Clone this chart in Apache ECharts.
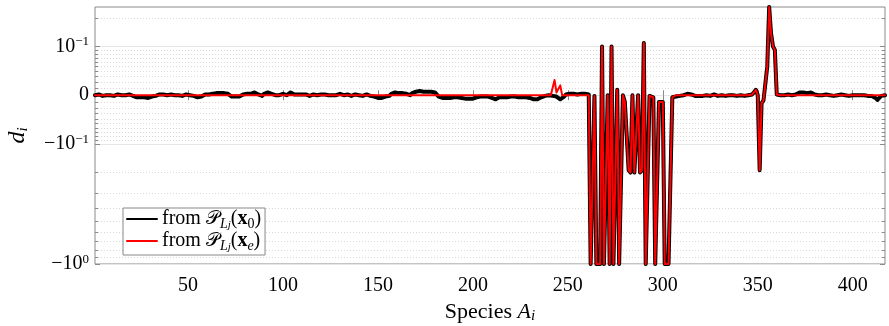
<!DOCTYPE html>
<html><head><meta charset="utf-8">
<script src="https://cdn.jsdelivr.net/npm/echarts@6/dist/echarts.min.js"></script>
<style>html,body{margin:0;padding:0;background:#fff}#c{width:889px;height:326px}</style>
</head><body><div id="c"></div>
<script>
// d_i for species A_1 ... A_417
const blackValues = [
0,0,.001,0,-.001,0,0,.001,0,0,
-.001,0,.001,0,0,-.001,0,0,.001,0,
-.001,-.002,-.003,-.002,-.003,-.004,-.003,-.003,-.004,-.003,
-.002,-.003,-.001,0,.001,0,.001,0,0,.001,
.001,0,0,.001,0,0,-.001,0,.001,0,
0,0,-.001,-.002,-.003,-.004,-.002,0,.001,0,
.001,.001,.002,.003,.003,.004,.003,.004,.003,.002,
.002,.001,-.002,-.003,-.002,-.001,-.002,0,.001,.002,
.002,.003,.002,.003,.004,.002,.001,.002,-.001,.002,
.003,.004,.005,.002,.001,0,.001,0,.001,.002,
.001,0,.002,.004,.002,.001,0,.001,0,.001,
0,.001,0,-.001,0,.001,.001,0,0,.001,
.002,.001,0,0,.001,0,-.001,0,.001,.002,
.001,0,0,.001,0,-.001,0,.001,.001,0,
0,-.001,0,.001,0,-.001,-.002,-.002,-.003,-.004,
-.003,-.004,-.003,-.002,-.003,-.001,.002,.003,.004,.004,
.003,.004,.003,.004,.002,.001,0,.003,.004,.005,
.005,.006,.005,.005,.006,.005,.004,.005,.004,.004,
.003,-.002,-.003,-.004,-.003,-.004,-.003,-.004,-.003,-.003,
-.004,-.003,-.003,-.004,-.004,-.005,-.006,-.005,-.006,-.005,
-.004,-.003,-.003,-.002,-.003,-.002,-.003,-.002,-.003,-.004,
-.005,-.006,-.004,-.003,-.002,-.003,-.002,-.003,-.003,-.002,
-.003,-.002,-.003,-.003,-.002,-.003,-.004,-.003,-.004,-.004,
-.005,-.006,-.005,-.006,-.005,-.003,-.002,-.001,-.001,0,
0,-.001,-.001,-.002,-.003,-.006,-.005,-.002,.001,.002,
.002,.001,.002,.002,.001,.002,.002,.001,.002,.002,
.001,-1,-1,-.001,-1,-1,-1,.1,-1,-1,
0,-1,.1,-1,-1,.008,-1,-1,0,-.01,
-.01,-.19,-.2,0,-.2,-.2,0,-.2,-.19,.11,
-1,-1,-.001,-.003,-.003,-1,-1,-.01,-.01,-.01,
-1,-1,-1,-1,-.003,-.002,-.002,-.002,-.001,-.001,
0,.001,.002,.002,.001,0,-.001,-.001,-.001,0,
-.001,-.001,0,-.001,-.001,0,.001,0,-.001,-.001,
0,-.001,-.001,0,0,-.001,0,-.001,-.001,0,
0,-.001,-.001,0,0,0,.001,.004,.008,0,
-.19,-.012,-.008,-.005,.05,.25,.14,.1,.09,.001,
0,0,-.001,0,0,.001,0,0,.001,.001,
.002,.004,.005,.004,.002,.003,.005,.004,.002,.001,
0,0,-.001,0,0,.001,0,0,0,-.001,
0,0,0,.001,0,0,0,-.001,0,0,
0,0,-.001,0,0,0,0,-.001,-.001,-.001,
-.002,-.004,-.007,-.004,-.001,0,0
];
const redValues = [
0,0,0,0,0,0,0,0,0,0, 0,0,0,0,0,0,0,0,0,0,
0,0,0,0,0,0,0,0,0,0, 0,0,0,0,0,0,0,0,0,0,
0,0,0,0,0,0,0,0,0,0, 0,0,0,0,0,0,0,0,0,0,
0,0,0,0,0,0,0,0,0,0, 0,0,0,0,0,0,0,0,0,0,
0,0,0,0,0,0,0,0,0,0, 0,0,0,0,0,0,0,0,0,0,
0,0,0,0,0,0,0,0,0,0, 0,0,0,0,0,0,0,0,0,0,
0,0,0,0,0,0,0,0,0,0, 0,0,0,0,0,0,0,0,0,0,
0,0,0,0,0,0,0,0,0,0, 0,0,0,0,0,0,0,0,0,0,
0,0,0,0,0,0,0,0,0,0, 0,0,0,0,0,0,0,0,0,0,
0,0,0,0,0,0,0,0,0,0, 0,0,0,0,0,0,0,0,0,0,
0,0,0,0,0,0,0,0,0,0, 0,0,0,0,0,0,0,0,0,0,
0,0,0,0,0,0,0,0,0,0, 0,0,0,0,0,0,0,0,0,0,
0,0,.024,.004,.003,.015,0,0,0,0,
0,0,0,0,0,0,0,0,0,0,
0,-1,-1,-.001,-1,-1,-1,.1,-1,-1,
0,-1,.1,-1,-1,.008,-1,-1,0,-.01,
-.01,-.19,-.2,0,-.2,-.2,0,-.2,-.19,.11,
-1,-1,-.001,-.003,-.003,-1,-1,-.01,-.01,-.01,
-1,-1,-1,-1,-.003,-.002,0,0,0,0,
0,0,0,0,0,0,0,0,0,0, 0,0,0,0,0,0,0,0,0,0,
0,0,0,0,0,0,0,0,0,0,
0,0,0,0,0,0,.001,.004,.008,0,
-.19,-.012,-.008,-.005,.05,.25,.14,.1,.09,.001,
0,0,0,0,0,0,0,0,0,0, 0,0,0,0,0,0,0,0,0,0,
0,0,0,0,0,0,0,0,0,0, 0,0,0,0,0,0,0,0,0,0,
0,0,0,0,0,0,0,0,0,0, 0,0,0,0,0,0,0
];
const seriesNames = ['x0', 'xe'];
const xTickValues = [50, 100, 150, 200, 250, 300, 350, 400];
const yMajorValues = [-1, -0.1, 0, 0.1];
const yMajorLabels = ['{m|\u221210}{s|0}', '{m|\u221210}{s|\u22121}', '{m|0}', '{m|10}{s|\u22121}'];
const yMinorValues = [-0.9,-0.8,-0.7,-0.6,-0.5,-0.4,-0.3,-0.2,
  -0.09,-0.08,-0.07,-0.06,-0.05,-0.04,-0.03,-0.02,-0.01,
  0.01,0.02,0.03,0.04,0.05,0.06,0.07,0.08,0.09,0.2];
const xRange = [1, 417];
const yRange = [-1, 0.25];

const linthresh = 0.1;
function symlog(v) { return Math.sign(v) * Math.log10(1 + Math.abs(v) / linthresh); }

const serif = 'Liberation Serif';
const axisGray = '#8a8a8a';
const species = blackValues.map((_, k) => k + 1);
const toData = vals => vals.map((v, k) => [species[k], symlog(v)]);
const tMin = symlog(yRange[0]), tMax = symlog(yRange[1]);
const majorT = yMajorValues.map(symlog);
const minorT = yMinorValues.map(symlog);

const chart = echarts.init(document.getElementById('c'), null, {renderer: 'canvas'});

function yAx(position, customT, tickLen, labels, split) {
  return {
    type: 'value', position: position, min: tMin, max: tMax,
    axisLine: {show: false},
    axisTick: {show: true, inside: true, length: tickLen, customValues: customT, lineStyle: {color: axisGray, width: 1}},
    axisLabel: labels ? {
      show: true, customValues: customT, margin: 6,
      formatter: function (val) {
        const k = customT.findIndex(t => Math.abs(t - val) < 1e-6);
        return k >= 0 ? yMajorLabels[k] : '';
      },
      rich: {
        m: {fontFamily: serif, fontSize: 20, lineHeight: 22, color: '#000'},
        s: {fontFamily: serif, fontSize: 13, lineHeight: 11, verticalAlign: 'top', color: '#000'}
      }
    } : {show: false},
    splitLine: split ? split : {show: false},
    name: position === 'left' && labels ? '{d|d}{i|i}' : '',
    nameLocation: 'middle', nameGap: 64, nameRotate: 90,
    nameTextStyle: {rich: {
      d: {fontFamily: serif, fontStyle: 'italic', fontSize: 24, lineHeight: 26, color: '#000'},
      i: {fontFamily: serif, fontStyle: 'italic', fontSize: 15, lineHeight: 15, verticalAlign: 'bottom', color: '#000'}
    }}
  };
}

const legendRich = {
  t: {fontFamily: serif, fontSize: 20, lineHeight: 24, color: '#000'},
  p: {fontFamily: 'DejaVu Serif', fontSize: 19, lineHeight: 24, color: '#000'},
  l: {fontFamily: serif, fontStyle: 'italic', fontSize: 14, lineHeight: 16, verticalAlign: 'bottom', color: '#000'},
  j: {fontFamily: serif, fontStyle: 'italic', fontSize: 11, lineHeight: 8, verticalAlign: 'bottom', color: '#000'},
  x: {fontFamily: serif, fontWeight: 'bold', fontSize: 20, lineHeight: 24, color: '#000'},
  z: {fontFamily: serif, fontSize: 14, lineHeight: 17, verticalAlign: 'bottom', color: '#000'},
  e: {fontFamily: serif, fontStyle: 'italic', fontSize: 14, lineHeight: 17, verticalAlign: 'bottom', color: '#000'}
};
const legendLabels = {
  x0: '{t|from }{p|\uD835\uDCAB}{l|L}{j|j}{t|(}{x|x}{z|0}{t|)}',
  xe: '{t|from }{p|\uD835\uDCAB}{l|L}{j|j}{t|(}{x|x}{e|e}{t|)}'
};

const option = {
  animation: false,
  backgroundColor: '#fff',
  grid: {left: 95, right: 4, top: 7, bottom: 62, show: true, borderColor: axisGray, borderWidth: 1,
         containLabel: false, outerBoundsMode: 'none'},
  xAxis: [{
    type: 'value', min: xRange[0], max: xRange[1],
    axisLine: {show: false},
    axisTick: {show: true, inside: true, length: 5, customValues: xTickValues, lineStyle: {color: axisGray}},
    axisLabel: {customValues: xTickValues, color: '#000', fontFamily: serif, fontSize: 20, margin: 12},
    splitLine: {show: false},
    name: '{t|Species }{a|A}{i|i}', nameLocation: 'middle', nameGap: 35,
    nameTextStyle: {rich: {
      t: {fontFamily: serif, fontSize: 22, lineHeight: 24, color: '#000'},
      a: {fontFamily: serif, fontStyle: 'italic', fontSize: 22, lineHeight: 24, color: '#000'},
      i: {fontFamily: serif, fontStyle: 'italic', fontSize: 15, lineHeight: 16, verticalAlign: 'bottom', color: '#000'}
    }}
  }, {
    type: 'value', position: 'top', min: xRange[0], max: xRange[1],
    axisLine: {show: false},
    axisTick: {show: true, inside: true, length: 5, customValues: xTickValues, lineStyle: {color: axisGray}},
    axisLabel: {show: false}, splitLine: {show: false}
  }],
  yAxis: [
    yAx('left', majorT, 5, true, {show: true, lineStyle: {color: '#e6e6e6', width: 1}}),
    yAx('left', minorT, 3, false, {show: true, lineStyle: {color: '#d9d9d9', width: 1, type: [1, 2]}}),
    yAx('right', majorT, 5, false, null),
    yAx('right', minorT, 3, false, null)
  ],
  legend: {
    left: 123, top: 208, orient: 'vertical',
    itemWidth: 30, itemHeight: 14, itemGap: 0,
    padding: [1, 4, 2, 3],
    backgroundColor: '#fff', borderColor: '#888', borderWidth: 1, borderRadius: 0,
    data: seriesNames,
    itemStyle: {opacity: 0, color: 'transparent', borderWidth: 0},
    formatter: name => legendLabels[name],
    textStyle: {rich: legendRich}
  },
  series: [
    {name: seriesNames[0], type: 'line', data: toData(blackValues), xAxisIndex: 0, yAxisIndex: 0,
     symbol: 'none', sampling: null, lineStyle: {color: '#000', width: 4, join: 'round', cap: 'round'},
     itemStyle: {color: '#000'}},
    {name: seriesNames[1], type: 'line', data: toData(redValues), xAxisIndex: 0, yAxisIndex: 0,
     symbol: 'none', sampling: null, lineStyle: {color: '#ff0000', width: 2, join: 'round', cap: 'round'},
     itemStyle: {color: '#ff0000'}}
  ]
};
chart.setOption(option);
</script>
</body></html>
